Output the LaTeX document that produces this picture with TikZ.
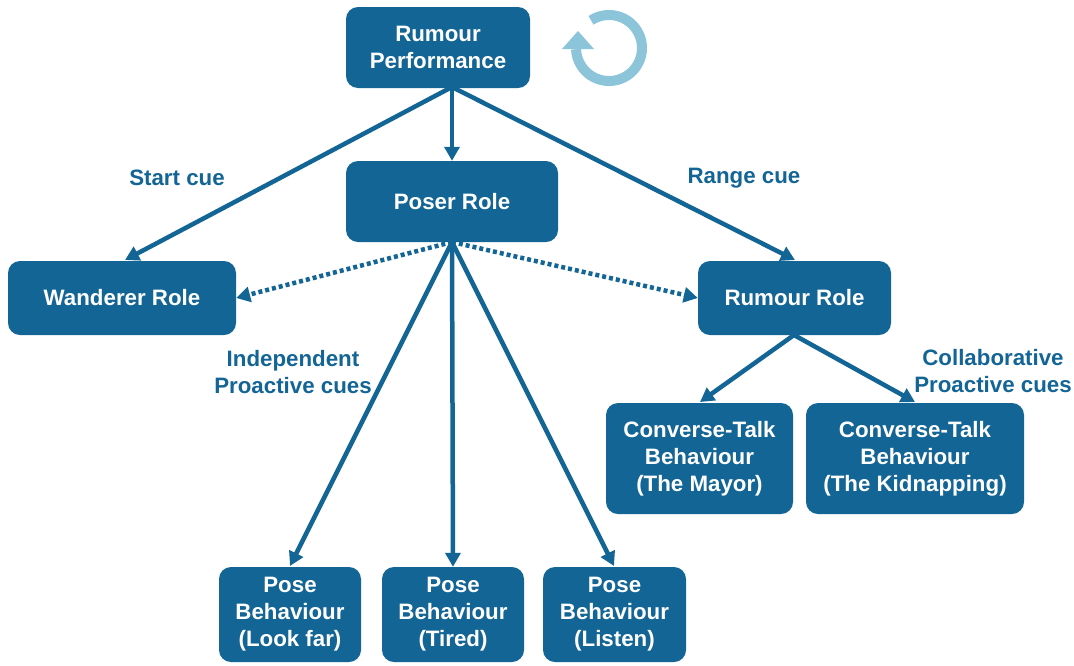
\documentclass[tikz,border=0pt]{standalone}
\usepackage{fontspec}
\setmainfont{Liberation Sans}
\usetikzlibrary{arrows.meta}
\definecolor{dblue}{RGB}{19,101,150}
\definecolor{lblue}{RGB}{140,196,218}
\begin{document}
\begin{tikzpicture}[x=1pt,y=-1pt,
  box/.style={draw=none,fill=dblue,rounded corners=12pt,text=white,
    font=\fontsize{22.3}{27}\selectfont\bfseries,align=center,inner sep=0pt},
  lab/.style={text=dblue,font=\fontsize{22.3}{27}\selectfont\bfseries,align=center,inner sep=0pt},
  conn/.style={draw=dblue,line width=4.5pt,-{Triangle[length=14pt,width=15pt]}},
  dot/.style={conn,dash pattern=on 4pt off 3pt}]
\useasboundingbox (0,0) rectangle (1074,665);
\node[box,minimum width=184pt,minimum height=81pt] (perf) at (438,47.5) {Rumour\\Performance};
\node[box,minimum width=212pt,minimum height=81pt] (poser) at (452,201.5) {Poser Role};
\node[box,minimum width=228pt,minimum height=74pt] (wand) at (122,298) {Wanderer Role};
\node[box,minimum width=193pt,minimum height=74pt] (rrole) at (794.5,298) {Rumour Role};
\node[box,minimum width=187pt,minimum height=111pt] (mayor) at (699.5,458.5) {Converse-Talk\\Behaviour\\(The Mayor)};
\node[box,minimum width=218pt,minimum height=111pt] (kid) at (915,458.5) {Converse-Talk\\Behaviour\\(The Kidnapping)};
\node[box,minimum width=142pt,minimum height=95pt] (far) at (290,614.5) {Pose\\Behaviour\\(Look far)};
\node[box,minimum width=142pt,minimum height=95pt] (tired) at (453,614.5) {Pose\\Behaviour\\(Tired)};
\node[box,minimum width=143pt,minimum height=95pt] (listen) at (614.5,614.5) {Pose\\Behaviour\\(Listen)};

\node[lab] (l1) at (177,178) {Start cue};
\node[lab] (l2) at (744,178) {Range cue};
\node[lab] (l3) at (293,372) {Independent\\Proactive cues};
\node[lab] (l4) at (993,371) {Collaborative\\Proactive cues};

\coordinate (pb) at (452,87);
\coordinate (qb) at (452,242);
\coordinate (rb) at (794,335);
\draw[conn] (pb) -- (125,260) coordinate (wt);
\draw[conn] (pb) -- (poser.north);
\draw[conn] (pb) -- (795,260) coordinate (rt);
\draw[dot] (qb) -- (wand.east);
\draw[dot] (qb) -- (rrole.west);
\draw[conn] (qb) -- (290,566) coordinate (ft);
\draw[conn] (qb) -- (tired.north);
\draw[conn] (qb) -- (614,566) coordinate (lt);
\draw[conn] (rb) -- (700,402) coordinate (mt);
\draw[conn] (rb) -- (915,402) coordinate (kt);

% cycle symbol
\coordinate (cyc) at (609,48);
\draw[lblue,line width=10pt] (cyc) ++(-123:33) arc[start angle=-123,end angle=178,radius=33];
\fill[lblue] (562,49) -- (594,49) -- (578,31) -- cycle;
\end{tikzpicture}
\end{document}
